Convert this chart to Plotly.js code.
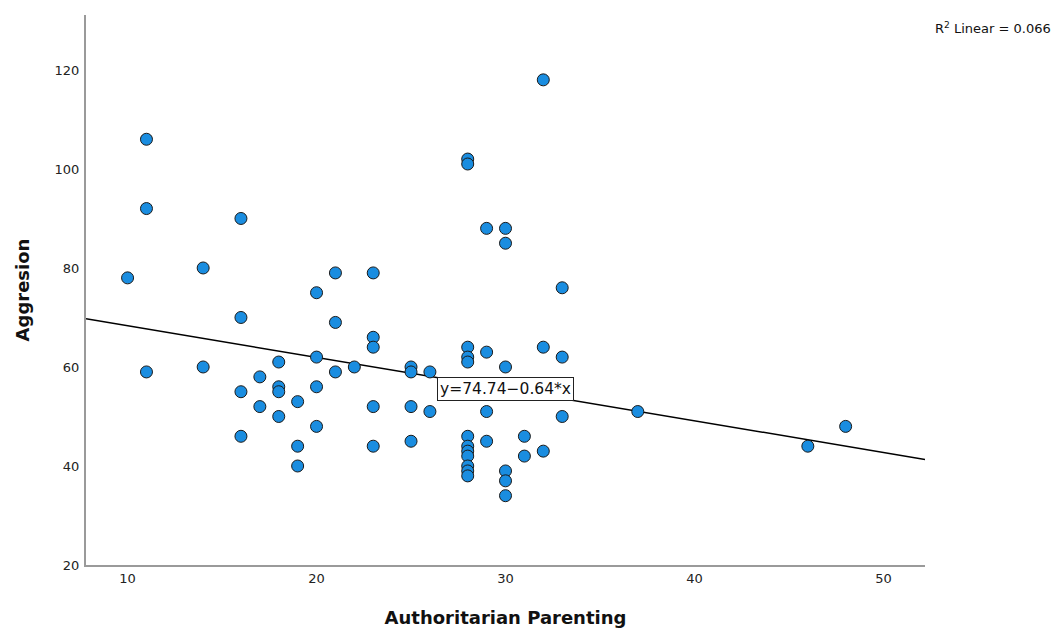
<!DOCTYPE html>
<html>
<head>
<meta charset="utf-8">
<script src="https://cdn.plot.ly/plotly-3.0.1.min.js"></script>
<style>
  html, body { margin: 0; padding: 0; background: #fff; }
  #chart { width: 1057px; height: 628px; }
</style>
</head>
<body>
<div id="chart"></div>
<script>
// Authoritarian Parenting scores (x) and Aggresion scores (y)
const parenting = [
  10, 11, 11, 11, 14, 14, 16, 16, 16, 16,
  17, 17, 18, 18, 18, 18, 19, 19, 19,
  20, 20, 20, 20, 21, 21, 21, 22,
  23, 23, 23, 23, 23,
  25, 25, 25, 25, 26, 26,
  28, 28, 28, 28, 28, 28, 28, 28, 28, 28, 28, 28,
  29, 29, 29, 29,
  30, 30, 30, 30, 30, 30,
  31, 31, 32, 32, 32, 33, 33, 33,
  37, 46, 48
];
const aggression = [
  78, 106, 92, 59, 80, 60, 90, 70, 55, 46,
  58, 52, 61, 56, 55, 50, 53, 44, 40,
  75, 62, 56, 48, 79, 69, 59, 60,
  79, 66, 64, 52, 44,
  60, 59, 52, 45, 59, 51,
  102, 101, 64, 62, 61, 46, 44, 43, 42, 40, 39, 38,
  88, 63, 51, 45,
  88, 85, 60, 39, 37, 34,
  46, 42, 118, 64, 43, 76, 62, 50,
  51, 44, 48
];

// Fitted linear regression
const intercept = 74.74;
const slope = -0.64;
const rSquared = 0.066;
const xRange = [7.8, 52.2];
const yRange = [20, 131.1];
const xTicks = [10, 20, 30, 40, 50];
const yTicks = [20, 40, 60, 80, 100, 120];

const fitX = xRange.slice();
const fitY = fitX.map(v => intercept + slope * v);
const labelX = 30;
const labelY = intercept + slope * labelX;

const font = "DejaVu Sans, Liberation Sans, sans-serif";

const traces = [
  {
    x: fitX, y: fitY, type: 'scatter', mode: 'lines',
    line: { color: '#000000', width: 1.5 },
    hoverinfo: 'skip', showlegend: false
  },
  {
    x: parenting, y: aggression, type: 'scatter', mode: 'markers',
    marker: { size: 12, color: '#1a8de0', line: { color: '#1a1a1a', width: 1 } },
    showlegend: false
  }
];

const W = 1057, H = 628, ML = 86, MR = 132, MT = 15, MB = 63;

const layout = {
  width: W, height: H,
  margin: { l: ML, r: MR, t: MT, b: MB },
  paper_bgcolor: '#ffffff', plot_bgcolor: '#ffffff',
  font: { family: font, size: 13, color: '#222' },
  showlegend: false,
  xaxis: {
    range: xRange, tickvals: xTicks, ticktext: xTicks.map(String),
    showgrid: false, zeroline: false, showline: true,
    linecolor: '#9a9a9a', linewidth: 2, ticks: '', ticklen: 0,
    tickfont: { family: font, size: 13, color: '#222' },
    title: { text: 'Authoritarian Parenting', standoff: 27,
             font: { family: font, size: 18, color: '#111', weight: 'bold' } }
  },
  yaxis: {
    range: yRange, tickvals: yTicks, ticktext: yTicks.map(String),
    showgrid: false, zeroline: false, showline: true,
    linecolor: '#9a9a9a', linewidth: 2, ticks: '', ticklen: 0,
    tickfont: { family: font, size: 13, color: '#222' },
    ticklabelstandoff: 2,
    title: { text: 'Aggresion', standoff: 20,
             font: { family: font, size: 18, color: '#111', weight: 'bold' } }
  },
  annotations: [
    {
      x: labelX, y: labelY, xref: 'x', yref: 'y',
      text: 'y=74.74\u22120.64*x', showarrow: false,
      font: { family: font, size: 15.5, color: '#111' },
      bgcolor: '#ffffff', bordercolor: '#222', borderwidth: 1, borderpad: 2,
      xanchor: 'center', yanchor: 'middle'
    },
    {
      x: (1053 - ML) / (W - ML - MR), y: (H - MB - 28) / (H - MT - MB),
      xref: 'paper', yref: 'paper',
      text: 'R<sup>2</sup> Linear = ' + rSquared.toFixed(3),
      showarrow: false, font: { family: font, size: 13, color: '#111' },
      xanchor: 'right', yanchor: 'middle'
    }
  ]
};

Plotly.newPlot('chart', traces, layout, { displayModeBar: false, staticPlot: true });
</script>
</body>
</html>
